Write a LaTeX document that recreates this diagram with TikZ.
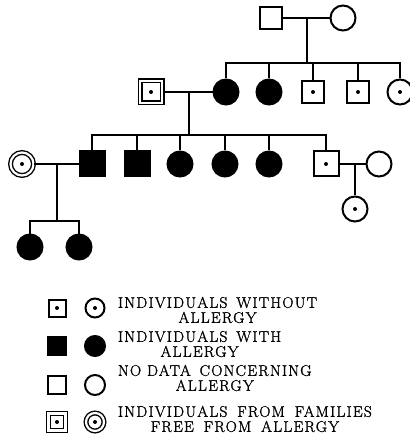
\documentclass[tikz,border=0pt]{standalone}
\usepackage{fontspec}
\newfontfamily\legendfont[LetterSpace=8.0, FakeBold=1.5]{Latin Modern Roman}
\usetikzlibrary{calc}

\tikzset{
	male/.style={draw, rectangle, minimum size=22pt, inner sep=0pt},
	female/.style={draw, circle, minimum size=25pt, inner sep=0pt},
	allergic/.style={fill=black},
	healthy/.style={path picture={\fill (path picture bounding box.center) circle (2pt);}},
	freefam/.style={healthy, double, line width=1.4pt, double distance=2.2pt},
	keysym/.style={minimum size=17pt},
	keytext/.style={anchor=west, align=center, inner sep=0pt, font={\legendfont\fontsize{15.5}{15}\selectfont}},
}

\begin{document}
\begin{tikzpicture}[x=1pt, y=-1pt, line width=2pt]
	\useasboundingbox (0,0) rectangle (409,435);
	% generation I
	\node[male] (I1) at (271,18) {};
	\node[female] (I2) at (343,18) {};
	% generation II
	\node[male, freefam] (II1) at (151,92) {};
	\node[female, allergic] (II2) at (226,92) {};
	\node[female, allergic] (II3) at (269,92) {};
	\node[male, healthy] (II4) at (313,92) {};
	\node[male, healthy] (II5) at (358,92) {};
	\node[female, healthy] (II6) at (400,92) {};
	% generation III
	\node[female, freefam, minimum size=23pt] (III1) at (22,164) {};
	\node[male, allergic, minimum size=25pt] (III2) at (92,164) {};
	\node[male, allergic, minimum size=25pt] (III3) at (137,164) {};
	\node[female, allergic] (III4) at (180,164) {};
	\node[female, allergic] (III5) at (225,164) {};
	\node[female, allergic] (III6) at (269,164) {};
	\node[male, healthy, minimum size=25pt] (III7) at (326,164) {};
	\node[female] (III8) at (379,164) {};
	% generation IV
	\node[female, allergic] (IV1) at (30,247) {};
	\node[female, allergic] (IV2) at (79,247) {};
	\node[female, healthy] (IV3) at (355,209) {};
	% matings and sibships
	\draw (I1) -- (I2);
	\coordinate (m1) at ($(I1)!0.5!(I2)$);
	\coordinate (s1) at (m1 |- 0,63);
	\draw (m1) -- (s1);
	\draw (II2) |- (II6 |- s1) -- (II6);
	\foreach \n in {II3,II4,II5} {
		\draw (\n |- s1) -- (\n);
	}
	\draw (II1) -- (II2);
	\coordinate (m2) at ($(II1)!0.5!(II2)$);
	\coordinate (s2) at (m2 |- 0,135);
	\draw (m2) -- (s2);
	\draw (III2) |- (III7 |- s2) -- (III7);
	\foreach \n in {III3,III4,III5,III6} {
		\draw (\n |- s2) -- (\n);
	}
	\draw (III1) -- (III2);
	\coordinate (m3) at ($(III1)!0.5!(III2)$);
	\coordinate (s3) at (m3 |- 0,221);
	\draw (m3) -- (s3);
	\draw (IV1) |- (IV2 |- s3) -- (IV2);
	\draw (III7) -- (III8);
	\draw (IV3 |- III7) -- (IV3);
	% key
	\node[male, healthy, keysym] (k1a) at (57,308) {};
	\node[female, healthy, keysym, minimum size=19pt] (k1b) at (95,308) {};
	\node[keytext] (t1) at (117,310) {INDIVIDUALS\hspace{9pt}WITHOUT\\ALLERGY};
	\node[male, allergic, keysym, minimum size=18pt] (k2a) at (57,346) {};
	\node[female, allergic, keysym, minimum size=20pt] (k2b) at (95,346) {};
	\node[keytext] (t2) at (117,344) {INDIVIDUALS\hspace{9pt}WITH\\ALLERGY};
	\node[male, keysym, minimum size=18pt] (k3a) at (57,385) {};
	\node[female, keysym, minimum size=20pt] (k3b) at (95,385) {};
	\node[keytext] (t3) at (117,378) {NO DATA\hspace{3pt} CONCERNING\\ALLERGY};
	\node[male, freefam, keysym] (k4a) at (57,422) {};
	\node[female, freefam, keysym, minimum size=18pt] (k4b) at (95,422) {};
	\node[keytext] (t4) at (117,419) {INDIVIDUALS\hspace{4pt} FROM\hspace{4pt} FAMILIES\\FREE\hspace{4pt} FROM\hspace{4pt} ALLERGY};
\end{tikzpicture}
\end{document}
